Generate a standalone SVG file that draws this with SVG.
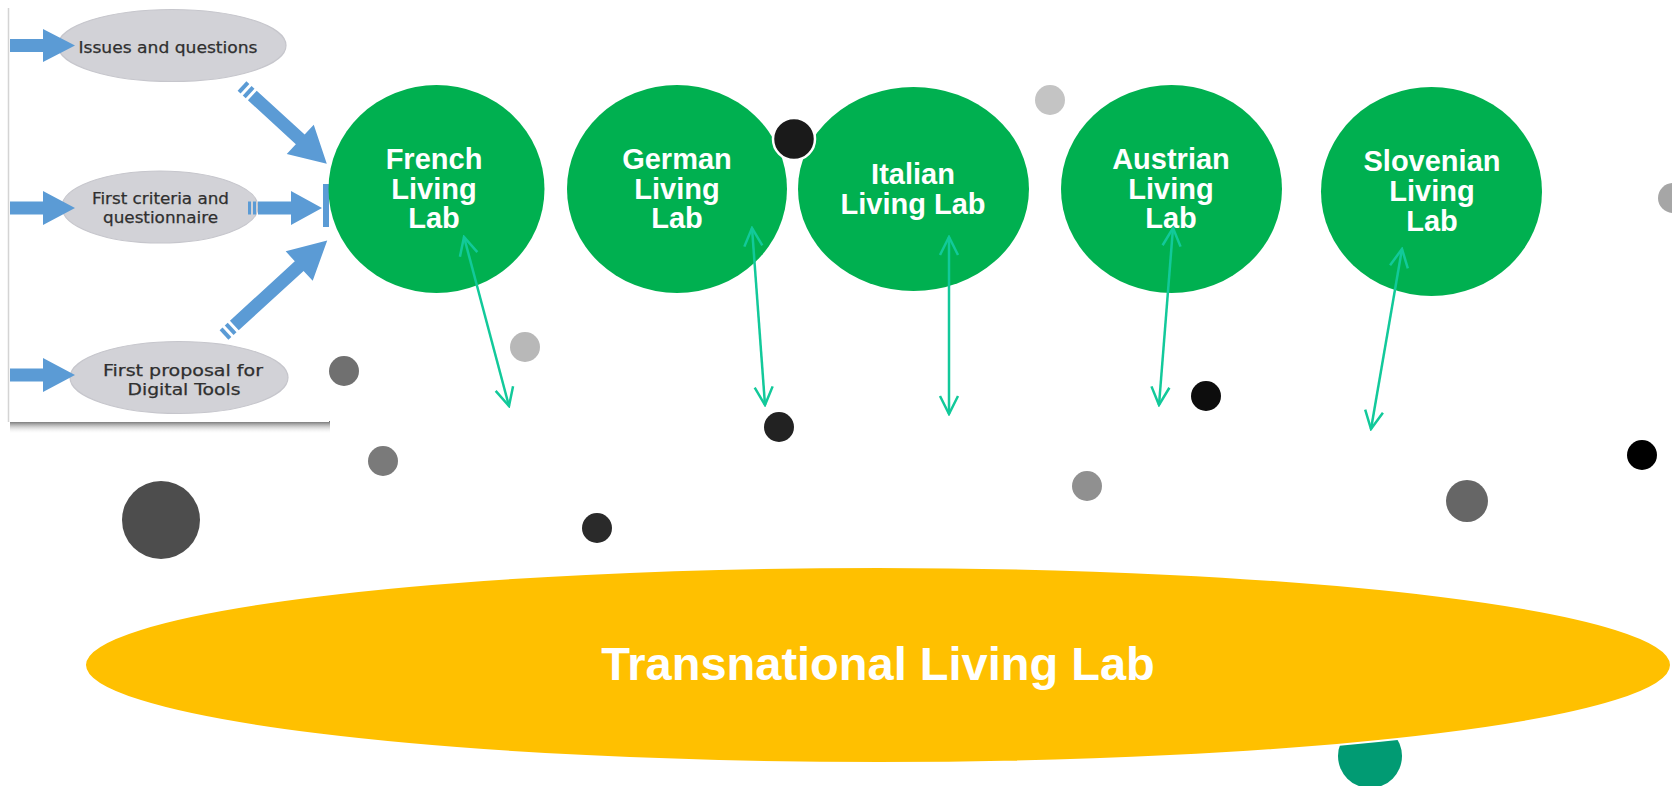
<svg xmlns="http://www.w3.org/2000/svg" width="1672" height="786" viewBox="0 0 1672 786">
  <defs>
    <style>
      .lab { fill: #00B050; }
      .labtxt { font-family: "Liberation Sans", Arial, sans-serif; font-weight: bold; font-size: 29px; fill: #ffffff; text-anchor: middle; }
      .gray-el { fill: #d2d2d7; stroke: #c6c6cc; stroke-width: 1.2; }
      .eltxt { font-family: "DejaVu Sans", Verdana, sans-serif; font-size: 16px; fill: #2f2f2f; stroke: #2f2f2f; stroke-width: 0.25; text-anchor: middle; }
      .blue { fill: #5B9BD5; }
      .conn { stroke: #12C99A; stroke-width: 2.5; fill: none; marker-start: url(#ah); marker-end: url(#ah); }
      .dot { stroke: none; }
    </style>
    <marker id="ah" viewBox="0 0 24 24" refX="22" refY="12" markerWidth="24" markerHeight="24" markerUnits="userSpaceOnUse" orient="auto-start-reverse">
      <path d="M4,3 L22,12 L4,21" fill="none" stroke="#12C99A" stroke-width="2.5"/>
    </marker>
    <linearGradient id="shadow" x1="0" y1="0" x2="0" y2="1">
      <stop offset="0" stop-color="#5e5e5e" stop-opacity="0.95"/>
      <stop offset="1" stop-color="#ffffff" stop-opacity="0"/>
    </linearGradient>
    <clipPath id="panelclip">
      <rect x="9" y="0" width="320" height="422"/>
    </clipPath>
  </defs>

  <rect x="0" y="0" width="1672" height="786" fill="#ffffff"/>

  <!-- left panel (process picture) -->
  <g id="process-panel">
    <rect x="10" y="421" width="320" height="13" fill="url(#shadow)"/>
    <rect x="9" y="0" width="320" height="422" fill="#ffffff"/>
    <line x1="8.5" y1="8" x2="8.5" y2="422" stroke="#d4d4d4" stroke-width="1.5"/>
    <g clip-path="url(#panelclip)">
      <g id="issues">
        <ellipse class="gray-el" cx="172" cy="45.5" rx="114" ry="36"/>
        <text class="eltxt" x="168" y="53" textLength="179" lengthAdjust="spacingAndGlyphs">Issues and questions</text>
      </g>
      <g id="criteria">
        <ellipse class="gray-el" cx="160" cy="207" rx="98" ry="36"/>
        <text class="eltxt" x="160.5" y="204" textLength="137" lengthAdjust="spacingAndGlyphs">First criteria and</text>
        <text class="eltxt" x="160.5" y="223" textLength="115" lengthAdjust="spacingAndGlyphs">questionnaire</text>
      </g>
      <g id="proposal">
        <ellipse class="gray-el" cx="179" cy="377.5" rx="109" ry="36"/>
        <text class="eltxt" x="183" y="376" textLength="160" lengthAdjust="spacingAndGlyphs">First proposal for</text>
        <text class="eltxt" x="184" y="395" textLength="113" lengthAdjust="spacingAndGlyphs">Digital Tools</text>
      </g>
      <g id="panel-arrows">
        <polygon class="blue" points="10,39 43,39 43,29 75,45.5 43,62 43,52 10,52"/>
        <polygon class="blue" points="10,201.5 43,201.5 43,191 75,208 43,225 43,214.5 10,214.5"/>
        <polygon class="blue" points="10,368.5 43,368.5 43,358 75,375 43,392 43,381.5 10,381.5"/>
        <g transform="translate(242,86) rotate(42.5)">
          <rect class="blue" x="0" y="-6.5" width="4" height="13"/>
          <rect class="blue" x="7" y="-6.5" width="4" height="13"/>
          <polygon class="blue" points="14,-6.5 79,-6.5 79,-20 115,0 79,20 79,6.5 14,6.5"/>
        </g>
        <g transform="translate(248,208)">
          <rect class="blue" x="0" y="-6.5" width="3" height="13"/>
          <rect class="blue" x="5" y="-6.5" width="3" height="13"/>
          <polygon class="blue" points="10,-6.5 43,-6.5 43,-17 74,0 43,17 43,6.5 10,6.5"/>
        </g>
        <rect class="blue" x="323" y="184" width="6" height="43"/>
        <g transform="translate(224,335) rotate(-42.5)">
          <rect class="blue" x="0" y="-6.5" width="4" height="13"/>
          <rect class="blue" x="7" y="-6.5" width="4" height="13"/>
          <polygon class="blue" points="14,-6.5 102,-6.5 102,-20 140,0 102,20 102,6.5 14,6.5"/>
        </g>
      </g>
    </g>
  </g>

  <!-- decorative dots -->
  <g id="dots">
    <circle class="dot" cx="1370" cy="756" r="32" fill="#019B73"/>
    <circle class="dot" cx="1050" cy="100" r="15" fill="#c4c4c4"/>
    <circle class="dot" cx="1673" cy="198" r="15" fill="#a6a6a6"/>
    <circle class="dot" cx="525" cy="347" r="15" fill="#b8b8b8"/>
    <circle class="dot" cx="344" cy="371" r="15" fill="#707070"/>
    <circle class="dot" cx="1206" cy="396" r="15" fill="#0d0d0d"/>
    <circle class="dot" cx="779" cy="427" r="15" fill="#222222"/>
    <circle class="dot" cx="383" cy="461" r="15" fill="#7a7a7a"/>
    <circle class="dot" cx="1642" cy="455" r="15" fill="#000000"/>
    <circle class="dot" cx="1087" cy="486" r="15" fill="#909090"/>
    <circle class="dot" cx="1467" cy="501" r="21" fill="#666666"/>
    <circle class="dot" cx="161" cy="520" r="39" fill="#4d4d4d"/>
    <circle class="dot" cx="597" cy="528" r="15" fill="#2a2a2a"/>
  </g>

  <!-- transnational living lab -->
  <g id="transnational">
    <ellipse cx="878" cy="665" rx="793" ry="98" fill="#FFC000" stroke="#ffffff" stroke-width="2"/>
    <text x="878" y="680" font-family="'Liberation Sans', Arial, sans-serif" font-weight="bold" font-size="47" fill="#ffffff" text-anchor="middle">Transnational Living Lab</text>
  </g>

  <!-- national living labs -->
  <g id="french">
    <ellipse class="lab" cx="436.5" cy="189" rx="108" ry="104"/>
    <text class="labtxt" x="434" y="169">French</text>
    <text class="labtxt" x="434" y="199">Living</text>
    <text class="labtxt" x="434" y="228">Lab</text>
  </g>
  <g id="german">
    <ellipse class="lab" cx="677" cy="189" rx="110" ry="104"/>
    <text class="labtxt" x="677" y="169">German</text>
    <text class="labtxt" x="677" y="199">Living</text>
    <text class="labtxt" x="677" y="228">Lab</text>
  </g>
  <g id="italian">
    <ellipse class="lab" cx="913.5" cy="189" rx="115.5" ry="102"/>
    <text class="labtxt" x="913" y="184">Italian</text>
    <text class="labtxt" x="913" y="214">Living Lab</text>
  </g>
  <g id="austrian">
    <ellipse class="lab" cx="1171.5" cy="189" rx="110.5" ry="104"/>
    <text class="labtxt" x="1171" y="169">Austrian</text>
    <text class="labtxt" x="1171" y="199">Living</text>
    <text class="labtxt" x="1171" y="228">Lab</text>
  </g>
  <g id="slovenian">
    <ellipse class="lab" cx="1431.5" cy="191.5" rx="110.5" ry="104.5"/>
    <text class="labtxt" x="1432" y="171">Slovenian</text>
    <text class="labtxt" x="1432" y="201">Living</text>
    <text class="labtxt" x="1432" y="231">Lab</text>
  </g>

  <g id="dot-black-top">
    <circle cx="794" cy="139" r="21" fill="#1a1a1a" stroke="#ffffff" stroke-width="2.5"/>
  </g>

  <!-- connectors -->
  <g id="connectors">
    <line class="conn" x1="464" y1="237" x2="509" y2="406"/>
    <line class="conn" x1="752" y1="228" x2="765" y2="405"/>
    <line class="conn" x1="949" y1="237" x2="949" y2="414"/>
    <line class="conn" x1="1173" y1="228" x2="1159" y2="405"/>
    <line class="conn" x1="1402" y1="249" x2="1371" y2="429"/>
  </g>
</svg>
